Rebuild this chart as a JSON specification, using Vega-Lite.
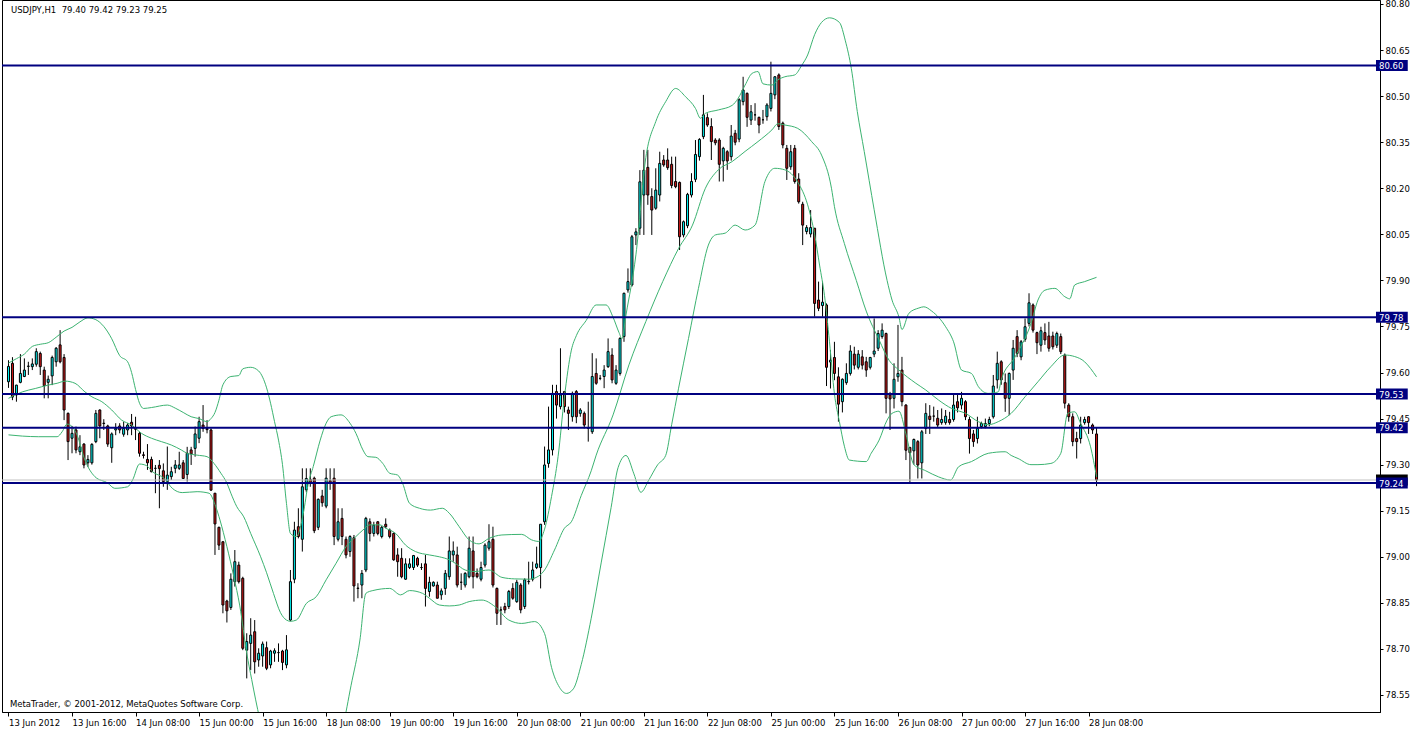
{
"$schema": "https://vega.github.io/schema/vega-lite/v6.json",
"width": 1378, "height": 712,
"autosize": {"type": "none"},
"padding": {"left": 2, "top": 0, "right": 38, "bottom": 17},
"background": "white",
"config": {"view": {"stroke": "#000000", "strokeWidth": 1}, "font": "DejaVu Sans",
  "axis": {"labelFont": "DejaVu Sans", "labelFontSize": 8.5, "labelColor": "#000000", "tickColor": "#000000", "domainColor": "#000000", "grid": false, "labelOverlap": false, "labelBound": false, "labelFlush": false}},
"datasets": {
"candles": [
{"i":0,"o":79.57,"h":79.64,"l":79.55,"c":79.62},{"i":1,"o":79.63,"h":79.65,"l":79.51,"c":79.52},{"i":2,"o":79.527,"h":79.56,"l":79.505,"c":79.559},{"i":3,"o":79.568,"h":79.66,"l":79.565,"c":79.597},{"i":4,"o":79.587,"h":79.646,"l":79.585,"c":79.608},{"i":5,"o":79.62,"h":79.635,"l":79.592,"c":79.621},{"i":6,"o":79.619,"h":79.646,"l":79.608,"c":79.628},{"i":7,"o":79.627,"h":79.679,"l":79.619,"c":79.668},{"i":8,"o":79.662,"h":79.668,"l":79.592,"c":79.619},{"i":9,"o":79.608,"h":79.619,"l":79.516,"c":79.557},
{"i":10,"o":79.568,"h":79.59,"l":79.516,"c":79.578},{"i":11,"o":79.589,"h":79.655,"l":79.559,"c":79.649},{"i":12,"o":79.635,"h":79.683,"l":79.619,"c":79.679},{"i":13,"o":79.69,"h":79.738,"l":79.63,"c":79.635},{"i":14,"o":79.649,"h":79.66,"l":79.445,"c":79.478},{"i":15,"o":79.467,"h":79.47,"l":79.315,"c":79.375},{"i":16,"o":79.386,"h":79.426,"l":79.337,"c":79.402},{"i":17,"o":79.413,"h":79.424,"l":79.337,"c":79.348},{"i":18,"o":79.342,"h":79.396,"l":79.331,"c":79.358},{"i":19,"o":79.367,"h":79.37,"l":79.288,"c":79.299},
{"i":20,"o":79.306,"h":79.331,"l":79.293,"c":79.317},{"i":21,"o":79.306,"h":79.37,"l":79.3,"c":79.366},{"i":22,"o":79.375,"h":79.478,"l":79.37,"c":79.467},{"i":23,"o":79.478,"h":79.48,"l":79.386,"c":79.426},{"i":24,"o":79.435,"h":79.448,"l":79.413,"c":79.434},{"i":25,"o":79.426,"h":79.43,"l":79.358,"c":79.367},{"i":26,"o":79.355,"h":79.405,"l":79.306,"c":79.4},{"i":27,"o":79.413,"h":79.435,"l":79.396,"c":79.418},{"i":28,"o":79.426,"h":79.435,"l":79.402,"c":79.413},{"i":29,"o":79.399,"h":79.44,"l":79.391,"c":79.418},
{"i":30,"o":79.413,"h":79.435,"l":79.396,"c":79.429},{"i":31,"o":79.438,"h":79.465,"l":79.396,"c":79.426},{"i":32,"o":79.418,"h":79.456,"l":79.38,"c":79.415},{"i":33,"o":79.402,"h":79.407,"l":79.326,"c":79.337},{"i":34,"o":79.332,"h":79.342,"l":79.32,"c":79.33},{"i":35,"o":79.317,"h":79.367,"l":79.283,"c":79.306},{"i":36,"o":79.317,"h":79.326,"l":79.275,"c":79.277},{"i":37,"o":79.288,"h":79.299,"l":79.207,"c":79.288},{"i":38,"o":79.298,"h":79.315,"l":79.158,"c":79.287},{"i":39,"o":79.28,"h":79.304,"l":79.228,"c":79.245},
{"i":40,"o":79.245,"h":79.359,"l":79.218,"c":79.266},{"i":41,"o":79.261,"h":79.293,"l":79.25,"c":79.277},{"i":42,"o":79.288,"h":79.315,"l":79.272,"c":79.299},{"i":43,"o":79.288,"h":79.342,"l":79.283,"c":79.299},{"i":44,"o":79.306,"h":79.315,"l":79.255,"c":79.255},{"i":45,"o":79.268,"h":79.358,"l":79.245,"c":79.337},{"i":46,"o":79.348,"h":79.358,"l":79.299,"c":79.335},{"i":47,"o":79.353,"h":79.424,"l":79.326,"c":79.4},{"i":48,"o":79.386,"h":79.456,"l":79.37,"c":79.44},{"i":49,"o":79.429,"h":79.494,"l":79.407,"c":79.418},
{"i":50,"o":79.418,"h":79.445,"l":79.402,"c":79.414},{"i":51,"o":79.413,"h":79.418,"l":79.215,"c":79.217},{"i":52,"o":79.207,"h":79.207,"l":79.006,"c":79.107},{"i":53,"o":79.096,"h":79.098,"l":79.022,"c":79.038},{"i":54,"o":79.049,"h":79.05,"l":78.816,"c":78.843},{"i":55,"o":78.856,"h":78.86,"l":78.786,"c":78.824},{"i":56,"o":78.835,"h":78.946,"l":78.827,"c":78.927},{"i":57,"o":78.919,"h":79.022,"l":78.903,"c":78.984},{"i":58,"o":78.973,"h":78.984,"l":78.913,"c":78.919},{"i":59,"o":78.93,"h":78.935,"l":78.696,"c":78.702},
{"i":60,"o":78.696,"h":78.751,"l":78.604,"c":78.724},{"i":61,"o":78.718,"h":78.8,"l":78.631,"c":78.745},{"i":62,"o":78.756,"h":78.794,"l":78.62,"c":78.658},{"i":63,"o":78.664,"h":78.702,"l":78.642,"c":78.686},{"i":64,"o":78.677,"h":78.724,"l":78.642,"c":78.716},{"i":65,"o":78.704,"h":78.724,"l":78.631,"c":78.637},{"i":66,"o":78.648,"h":78.697,"l":78.637,"c":78.693},{"i":67,"o":78.686,"h":78.702,"l":78.658,"c":78.694},{"i":68,"o":78.688,"h":78.718,"l":78.658,"c":78.688},{"i":69,"o":78.693,"h":78.697,"l":78.631,"c":78.656},
{"i":70,"o":78.648,"h":78.745,"l":78.637,"c":78.697},{"i":71,"o":78.794,"h":78.957,"l":78.79,"c":78.919},{"i":72,"o":78.927,"h":79.114,"l":78.914,"c":79.087},{"i":73,"o":79.098,"h":79.158,"l":79.06,"c":79.066},{"i":74,"o":79.057,"h":79.288,"l":79.017,"c":79.228},{"i":75,"o":79.218,"h":79.288,"l":79.21,"c":79.255},{"i":76,"o":79.252,"h":79.288,"l":79.228,"c":79.241},{"i":77,"o":79.256,"h":79.261,"l":79.077,"c":79.085},{"i":78,"o":79.096,"h":79.19,"l":79.087,"c":79.187},{"i":79,"o":79.198,"h":79.218,"l":79.163,"c":79.176},
{"i":80,"o":79.165,"h":79.288,"l":79.158,"c":79.256},{"i":81,"o":79.248,"h":79.288,"l":79.218,"c":79.241},{"i":82,"o":79.256,"h":79.288,"l":79.038,"c":79.066},{"i":83,"o":79.057,"h":79.158,"l":79.05,"c":79.114},{"i":84,"o":79.125,"h":79.158,"l":79.038,"c":79.066},{"i":85,"o":79.057,"h":79.066,"l":78.995,"c":79.006},{"i":86,"o":79.017,"h":79.07,"l":79.0,"c":79.066},{"i":87,"o":79.062,"h":79.071,"l":78.854,"c":78.905},{"i":88,"o":78.898,"h":78.914,"l":78.865,"c":78.897},{"i":89,"o":78.908,"h":78.957,"l":78.865,"c":78.946},
{"i":90,"o":78.957,"h":79.13,"l":78.95,"c":79.125},{"i":91,"o":79.114,"h":79.125,"l":79.05,"c":79.076},{"i":92,"o":79.076,"h":79.114,"l":79.066,"c":79.103},{"i":93,"o":79.114,"h":79.116,"l":79.07,"c":79.076},{"i":94,"o":79.066,"h":79.1,"l":79.06,"c":79.096},{"i":95,"o":79.106,"h":79.125,"l":79.093,"c":79.098},{"i":96,"o":79.087,"h":79.092,"l":79.06,"c":79.066},{"i":97,"o":79.076,"h":79.079,"l":78.987,"c":78.99},{"i":98,"o":79.006,"h":79.028,"l":78.935,"c":78.984},{"i":99,"o":78.995,"h":79.028,"l":78.93,"c":78.935},
{"i":100,"o":78.927,"h":78.995,"l":78.925,"c":78.977},{"i":101,"o":78.965,"h":78.995,"l":78.96,"c":78.977},{"i":102,"o":78.965,"h":79.006,"l":78.957,"c":79.004},{"i":103,"o":78.995,"h":79.0,"l":78.967,"c":78.973},{"i":104,"o":78.965,"h":78.979,"l":78.957,"c":78.965},{"i":105,"o":78.977,"h":79.006,"l":78.838,"c":78.897},{"i":106,"o":78.887,"h":78.935,"l":78.87,"c":78.917},{"i":107,"o":78.905,"h":78.92,"l":78.903,"c":78.917},{"i":108,"o":78.908,"h":78.919,"l":78.865,"c":78.865},{"i":109,"o":78.876,"h":78.897,"l":78.86,"c":78.889},
{"i":110,"o":78.897,"h":78.957,"l":78.876,"c":78.946},{"i":111,"o":78.935,"h":79.066,"l":78.925,"c":79.019},{"i":112,"o":79.006,"h":79.05,"l":78.984,"c":79.019},{"i":113,"o":79.006,"h":79.033,"l":78.9,"c":78.908},{"i":114,"o":78.917,"h":78.946,"l":78.892,"c":78.917},{"i":115,"o":78.908,"h":78.95,"l":78.9,"c":78.946},{"i":116,"o":78.935,"h":79.066,"l":78.93,"c":79.028},{"i":117,"o":79.019,"h":79.066,"l":78.897,"c":78.935},{"i":118,"o":78.946,"h":78.962,"l":78.93,"c":78.935},{"i":119,"o":78.927,"h":78.984,"l":78.92,"c":78.965},
{"i":120,"o":78.973,"h":79.044,"l":78.965,"c":79.038},{"i":121,"o":79.028,"h":79.106,"l":79.02,"c":79.049},{"i":122,"o":79.057,"h":79.098,"l":78.9,"c":78.908},{"i":123,"o":78.897,"h":78.9,"l":78.778,"c":78.816},{"i":124,"o":78.827,"h":78.838,"l":78.778,"c":78.827},{"i":125,"o":78.838,"h":78.85,"l":78.816,"c":78.827},{"i":126,"o":78.838,"h":78.892,"l":78.83,"c":78.887},{"i":127,"o":78.897,"h":78.914,"l":78.86,"c":78.865},{"i":128,"o":78.854,"h":78.925,"l":78.85,"c":78.917},{"i":129,"o":78.908,"h":78.914,"l":78.816,"c":78.827},
{"i":130,"o":78.838,"h":78.93,"l":78.83,"c":78.925},{"i":131,"o":78.919,"h":78.984,"l":78.91,"c":78.92},{"i":132,"o":78.927,"h":78.984,"l":78.92,"c":78.957},{"i":133,"o":78.965,"h":79.033,"l":78.96,"c":78.977},{"i":134,"o":78.965,"h":79.106,"l":78.897,"c":79.106},{"i":135,"o":79.114,"h":79.359,"l":79.104,"c":79.299},{"i":136,"o":79.304,"h":79.489,"l":79.29,"c":79.348},{"i":137,"o":79.348,"h":79.56,"l":79.33,"c":79.532},{"i":138,"o":79.538,"h":79.56,"l":79.45,"c":79.494},{"i":139,"o":79.489,"h":79.679,"l":79.48,"c":79.527},
{"i":140,"o":79.538,"h":79.54,"l":79.47,"c":79.489},{"i":141,"o":79.478,"h":79.489,"l":79.413,"c":79.467},{"i":142,"o":79.456,"h":79.538,"l":79.44,"c":79.532},{"i":143,"o":79.538,"h":79.543,"l":79.435,"c":79.456},{"i":144,"o":79.467,"h":79.484,"l":79.456,"c":79.478},{"i":145,"o":79.467,"h":79.473,"l":79.418,"c":79.429},{"i":146,"o":79.418,"h":79.505,"l":79.375,"c":79.418},{"i":147,"o":79.407,"h":79.663,"l":79.4,"c":79.587},{"i":148,"o":79.597,"h":79.646,"l":79.56,"c":79.565},{"i":149,"o":79.581,"h":79.592,"l":79.575,"c":79.581},
{"i":150,"o":79.587,"h":79.624,"l":79.549,"c":79.608},{"i":151,"o":79.619,"h":79.711,"l":79.615,"c":79.668},{"i":152,"o":79.657,"h":79.679,"l":79.565,"c":79.576},{"i":153,"o":79.565,"h":79.624,"l":79.56,"c":79.608},{"i":154,"o":79.597,"h":79.715,"l":79.59,"c":79.711},{"i":155,"o":79.717,"h":79.86,"l":79.7,"c":79.858},{"i":156,"o":79.869,"h":79.939,"l":79.86,"c":79.896},{"i":157,"o":79.885,"h":80.048,"l":79.88,"c":80.042},{"i":158,"o":80.048,"h":80.07,"l":80.015,"c":80.058},{"i":159,"o":80.07,"h":80.259,"l":80.048,"c":80.221},
{"i":160,"o":80.178,"h":80.325,"l":80.048,"c":80.259},{"i":161,"o":80.268,"h":80.325,"l":80.146,"c":80.178},{"i":162,"o":80.173,"h":80.2,"l":80.048,"c":80.129},{"i":163,"o":80.135,"h":80.265,"l":80.13,"c":80.194},{"i":164,"o":80.178,"h":80.319,"l":80.157,"c":80.281},{"i":165,"o":80.292,"h":80.308,"l":80.27,"c":80.276},{"i":166,"o":80.292,"h":80.33,"l":80.26,"c":80.267},{"i":167,"o":80.278,"h":80.303,"l":80.2,"c":80.209},{"i":168,"o":80.222,"h":80.303,"l":80.2,"c":80.205},{"i":169,"o":80.219,"h":80.222,"l":79.999,"c":80.042},
{"i":170,"o":80.048,"h":80.095,"l":80.04,"c":80.091},{"i":171,"o":80.078,"h":80.185,"l":80.07,"c":80.18},{"i":172,"o":80.178,"h":80.249,"l":80.17,"c":80.222},{"i":173,"o":80.229,"h":80.357,"l":80.22,"c":80.31},{"i":174,"o":80.303,"h":80.363,"l":80.29,"c":80.359},{"i":175,"o":80.368,"h":80.504,"l":80.36,"c":80.439},{"i":176,"o":80.43,"h":80.444,"l":80.4,"c":80.406},{"i":177,"o":80.401,"h":80.428,"l":80.292,"c":80.352},{"i":178,"o":80.357,"h":80.363,"l":80.34,"c":80.348},{"i":179,"o":80.357,"h":80.363,"l":80.222,"c":80.278},
{"i":180,"o":80.289,"h":80.335,"l":80.222,"c":80.33},{"i":181,"o":80.319,"h":80.324,"l":80.26,"c":80.289},{"i":182,"o":80.303,"h":80.406,"l":80.29,"c":80.37},{"i":183,"o":80.379,"h":80.39,"l":80.34,"c":80.35},{"i":184,"o":80.36,"h":80.493,"l":80.35,"c":80.488},{"i":185,"o":80.482,"h":80.563,"l":80.47,"c":80.52},{"i":186,"o":80.509,"h":80.512,"l":80.4,"c":80.431},{"i":187,"o":80.422,"h":80.471,"l":80.406,"c":80.449},{"i":188,"o":80.439,"h":80.477,"l":80.42,"c":80.439},{"i":189,"o":80.431,"h":80.433,"l":80.379,"c":80.406},
{"i":190,"o":80.423,"h":80.455,"l":80.41,"c":80.423},{"i":191,"o":80.433,"h":80.477,"l":80.42,"c":80.471},{"i":192,"o":80.46,"h":80.612,"l":80.45,"c":80.509},{"i":193,"o":80.504,"h":80.565,"l":80.49,"c":80.563},{"i":194,"o":80.569,"h":80.574,"l":80.39,"c":80.401},{"i":195,"o":80.412,"h":80.417,"l":80.33,"c":80.341},{"i":196,"o":80.33,"h":80.341,"l":80.227,"c":80.265},{"i":197,"o":80.27,"h":80.341,"l":80.26,"c":80.319},{"i":198,"o":80.33,"h":80.341,"l":80.215,"c":80.222},{"i":199,"o":80.23,"h":80.249,"l":80.15,"c":80.156},
{"i":200,"o":80.148,"h":80.156,"l":80.015,"c":80.08},{"i":201,"o":80.059,"h":80.08,"l":80.05,"c":80.072},{"i":202,"o":80.051,"h":80.129,"l":80.04,"c":80.072},{"i":203,"o":80.07,"h":80.07,"l":79.782,"c":79.825},{"i":204,"o":79.836,"h":79.896,"l":79.8,"c":79.809},{"i":205,"o":79.818,"h":79.896,"l":79.782,"c":79.829},{"i":206,"o":79.82,"h":79.825,"l":79.556,"c":79.617},{"i":207,"o":79.634,"h":79.673,"l":79.548,"c":79.64},{"i":208,"o":79.649,"h":79.7,"l":79.575,"c":79.597},{"i":209,"o":79.586,"h":79.617,"l":79.44,"c":79.497},
{"i":210,"o":79.505,"h":79.581,"l":79.47,"c":79.578},{"i":211,"o":79.567,"h":79.63,"l":79.56,"c":79.597},{"i":212,"o":79.597,"h":79.689,"l":79.59,"c":79.67},{"i":213,"o":79.66,"h":79.684,"l":79.61,"c":79.624},{"i":214,"o":79.617,"h":79.673,"l":79.61,"c":79.66},{"i":215,"o":79.651,"h":79.673,"l":79.61,"c":79.624},{"i":216,"o":79.635,"h":79.651,"l":79.586,"c":79.608},{"i":217,"o":79.617,"h":79.651,"l":79.61,"c":79.649},{"i":218,"o":79.66,"h":79.776,"l":79.65,"c":79.67},{"i":219,"o":79.679,"h":79.738,"l":79.67,"c":79.727},
{"i":220,"o":79.717,"h":79.76,"l":79.71,"c":79.738},{"i":221,"o":79.727,"h":79.73,"l":79.467,"c":79.516},{"i":222,"o":79.527,"h":79.537,"l":79.413,"c":79.514},{"i":223,"o":79.516,"h":79.63,"l":79.483,"c":79.578},{"i":224,"o":79.586,"h":79.755,"l":79.57,"c":79.597},{"i":225,"o":79.608,"h":79.651,"l":79.49,"c":79.505},{"i":226,"o":79.494,"h":79.497,"l":79.315,"c":79.347},{"i":227,"o":79.356,"h":79.358,"l":79.237,"c":79.339},{"i":228,"o":79.345,"h":79.385,"l":79.3,"c":79.382},{"i":229,"o":79.375,"h":79.38,"l":79.255,"c":79.299},
{"i":230,"o":79.306,"h":79.413,"l":79.255,"c":79.407},{"i":231,"o":79.418,"h":79.5,"l":79.4,"c":79.467},{"i":232,"o":79.458,"h":79.494,"l":79.4,"c":79.447},{"i":233,"o":79.458,"h":79.489,"l":79.44,"c":79.458},{"i":234,"o":79.451,"h":79.478,"l":79.42,"c":79.429},{"i":235,"o":79.437,"h":79.483,"l":79.43,"c":79.447},{"i":236,"o":79.437,"h":79.478,"l":79.43,"c":79.458},{"i":237,"o":79.447,"h":79.472,"l":79.43,"c":79.437},{"i":238,"o":79.447,"h":79.532,"l":79.44,"c":79.494},{"i":239,"o":79.505,"h":79.532,"l":79.47,"c":79.485},
{"i":240,"o":79.494,"h":79.537,"l":79.48,"c":79.516},{"i":241,"o":79.505,"h":79.51,"l":79.445,"c":79.456},{"i":242,"o":79.447,"h":79.456,"l":79.336,"c":79.385},{"i":243,"o":79.4,"h":79.413,"l":79.358,"c":79.375},{"i":244,"o":79.385,"h":79.456,"l":79.369,"c":79.418},{"i":245,"o":79.424,"h":79.44,"l":79.418,"c":79.434},{"i":246,"o":79.424,"h":79.45,"l":79.418,"c":79.434},{"i":247,"o":79.434,"h":79.456,"l":79.425,"c":79.447},{"i":248,"o":79.456,"h":79.592,"l":79.45,"c":79.556},{"i":249,"o":79.576,"h":79.668,"l":79.548,"c":79.63},
{"i":250,"o":79.635,"h":79.64,"l":79.56,"c":79.576},{"i":251,"o":79.567,"h":79.597,"l":79.472,"c":79.516},{"i":252,"o":79.516,"h":79.6,"l":79.461,"c":79.597},{"i":253,"o":79.608,"h":79.706,"l":79.576,"c":79.679},{"i":254,"o":79.717,"h":79.738,"l":79.65,"c":79.662},{"i":255,"o":79.651,"h":79.706,"l":79.64,"c":79.7},{"i":256,"o":79.708,"h":79.776,"l":79.7,"c":79.749},{"i":257,"o":79.76,"h":79.858,"l":79.75,"c":79.827},{"i":258,"o":79.82,"h":79.825,"l":79.73,"c":79.738},{"i":259,"o":79.73,"h":79.733,"l":79.66,"c":79.697},
{"i":260,"o":79.689,"h":79.749,"l":79.668,"c":79.736},{"i":261,"o":79.73,"h":79.76,"l":79.69,"c":79.706},{"i":262,"o":79.719,"h":79.765,"l":79.668,"c":79.679},{"i":263,"o":79.719,"h":79.733,"l":79.675,"c":79.684},{"i":264,"o":79.689,"h":79.733,"l":79.68,"c":79.727},{"i":265,"o":79.717,"h":79.727,"l":79.66,"c":79.668},{"i":266,"o":79.657,"h":79.662,"l":79.483,"c":79.5},{"i":267,"o":79.494,"h":79.5,"l":79.44,"c":79.456},{"i":268,"o":79.456,"h":79.467,"l":79.36,"c":79.375},{"i":269,"o":79.385,"h":79.407,"l":79.32,"c":79.375},
{"i":270,"o":79.385,"h":79.456,"l":79.369,"c":79.429},{"i":271,"o":79.437,"h":79.456,"l":79.43,"c":79.447},{"i":272,"o":79.456,"h":79.458,"l":79.4,"c":79.437},{"i":273,"o":79.429,"h":79.434,"l":79.4,"c":79.413},{"i":274,"o":79.4,"h":79.42,"l":79.23,"c":79.25}
],
"bands": [
{"b":"u","i":0,"v":79.631},{"b":"u","i":2,"v":79.645},{"b":"u","i":4,"v":79.66},{"b":"u","i":6,"v":79.685},{"b":"u","i":8,"v":79.692},{"b":"u","i":10,"v":79.697},{"b":"u","i":12,"v":79.715},{"b":"u","i":14,"v":79.735},{"b":"u","i":16,"v":79.747},{"b":"u","i":18,"v":79.765},{"b":"u","i":20,"v":79.778},{"b":"u","i":22,"v":79.772},{"b":"u","i":24,"v":79.75},{"b":"u","i":26,"v":79.71},{"b":"u","i":28,"v":79.655},{"b":"u","i":30,"v":79.635},{"b":"u","i":31,"v":79.6},{"b":"u","i":32,"v":79.545},{"b":"u","i":33,"v":79.5},{"b":"u","i":34,"v":79.483},{"b":"u","i":36,"v":79.486},{"b":"u","i":40,"v":79.494},{"b":"u","i":42,"v":79.484},{"b":"u","i":44,"v":79.47},{"b":"u","i":46,"v":79.456},{"b":"u","i":48,"v":79.45},{"b":"u","i":50,"v":79.44},{"b":"u","i":51,"v":79.45},{"b":"u","i":52,"v":79.47},{"b":"u","i":53,"v":79.51},{"b":"u","i":54,"v":79.56},{"b":"u","i":56,"v":79.587},{"b":"u","i":58,"v":79.59},{"b":"u","i":59,"v":79.612},{"b":"u","i":61,"v":79.617},{"b":"u","i":63,"v":79.605},{"b":"u","i":64,"v":79.585},{"b":"u","i":65,"v":79.55},{"b":"u","i":66,"v":79.5},{"b":"u","i":67,"v":79.44},{"b":"u","i":68,"v":79.38},{"b":"u","i":69,"v":79.3},{"b":"u","i":70,"v":79.174},{"b":"u","i":71,"v":79.076},{"b":"u","i":72.5,"v":79.066},{"b":"u","i":74.25,"v":79.142},{"b":"u","i":75.5,"v":79.239},{"b":"u","i":76.75,"v":79.294},{"b":"u","i":78.5,"v":79.38},{"b":"u","i":80,"v":79.435},{"b":"u","i":81.25,"v":79.456},{"b":"u","i":83.75,"v":79.462},{"b":"u","i":86,"v":79.435},{"b":"u","i":87.5,"v":79.402},{"b":"u","i":89.25,"v":79.348},{"b":"u","i":90.5,"v":79.326},{"b":"u","i":92.5,"v":79.324},{"b":"u","i":94.25,"v":79.304},{"b":"u","i":96,"v":79.272},{"b":"u","i":98,"v":79.266},{"b":"u","i":99.25,"v":79.239},{"b":"u","i":101,"v":79.174},{"b":"u","i":103.5,"v":79.158},{"b":"u","i":106.25,"v":79.152},{"b":"u","i":109.25,"v":79.158},{"b":"u","i":111,"v":79.142},{"b":"u","i":113.5,"v":79.098},{"b":"u","i":116,"v":79.055},{"b":"u","i":118.5,"v":79.042},{"b":"u","i":121,"v":79.06},{"b":"u","i":124.25,"v":79.071},{"b":"u","i":129.25,"v":79.073},{"b":"u","i":131.75,"v":79.055},{"b":"u","i":133.5,"v":79.05},{"b":"u","i":135,"v":79.09},{"b":"u","i":136.75,"v":79.196},{"b":"u","i":138.4,"v":79.326},{"b":"u","i":140,"v":79.52},{"b":"u","i":141.75,"v":79.673},{"b":"u","i":143,"v":79.72},{"b":"u","i":145.5,"v":79.77},{"b":"u","i":148,"v":79.82},{"b":"u","i":150.5,"v":79.82},{"b":"u","i":152.25,"v":79.78},{"b":"u","i":153.75,"v":79.73},{"b":"u","i":154.5,"v":79.71},{"b":"u","i":155.5,"v":79.787},{"b":"u","i":158,"v":79.983},{"b":"u","i":160.5,"v":80.3},{"b":"u","i":163,"v":80.417},{"b":"u","i":165.5,"v":80.482},{"b":"u","i":168,"v":80.525},{"b":"u","i":170.5,"v":80.498},{"b":"u","i":173,"v":80.46},{"b":"u","i":174.25,"v":80.428},{"b":"u","i":175.5,"v":80.444},{"b":"u","i":178.75,"v":80.455},{"b":"u","i":182.25,"v":80.47},{"b":"u","i":183.75,"v":80.493},{"b":"u","i":185.5,"v":80.536},{"b":"u","i":187.25,"v":80.574},{"b":"u","i":188.75,"v":80.58},{"b":"u","i":190,"v":80.54},{"b":"u","i":192.25,"v":80.536},{"b":"u","i":193.75,"v":80.553},{"b":"u","i":195.5,"v":80.563},{"b":"u","i":198,"v":80.569},{"b":"u","i":199.75,"v":80.6},{"b":"u","i":201.25,"v":80.634},{"b":"u","i":203,"v":80.7},{"b":"u","i":204.75,"v":80.74},{"b":"u","i":206.75,"v":80.755},{"b":"u","i":209.25,"v":80.74},{"b":"u","i":210.75,"v":80.68},{"b":"u","i":212.25,"v":80.59},{"b":"u","i":213.75,"v":80.45},{"b":"u","i":215.5,"v":80.32},{"b":"u","i":218,"v":80.13},{"b":"u","i":221.25,"v":79.9},{"b":"u","i":222.5,"v":79.836},{"b":"u","i":224.25,"v":79.78},{"b":"u","i":225,"v":79.74},{"b":"u","i":226.75,"v":79.793},{"b":"u","i":229.25,"v":79.81},{"b":"u","i":230.5,"v":79.814},{"b":"u","i":232.5,"v":79.8},{"b":"u","i":236,"v":79.749},{"b":"u","i":238,"v":79.7},{"b":"u","i":240,"v":79.608},{"b":"u","i":242.5,"v":79.597},{"b":"u","i":244.25,"v":79.554},{"b":"u","i":246.75,"v":79.532},{"b":"u","i":249.25,"v":79.537},{"b":"u","i":250,"v":79.576},{"b":"u","i":253.5,"v":79.651},{"b":"u","i":257.5,"v":79.76},{"b":"u","i":259.25,"v":79.836},{"b":"u","i":261,"v":79.868},{"b":"u","i":263.5,"v":79.874},{"b":"u","i":266,"v":79.847},{"b":"u","i":267.25,"v":79.84},{"b":"u","i":268.5,"v":79.885},{"b":"u","i":271,"v":79.896},{"b":"u","i":274,"v":79.91},
{"b":"m","i":0,"v":79.516},{"b":"m","i":3.5,"v":79.537},{"b":"m","i":6.75,"v":79.548},{"b":"m","i":10,"v":79.559},{"b":"m","i":12.25,"v":79.565},{"b":"m","i":14.25,"v":79.572},{"b":"m","i":16.75,"v":79.565},{"b":"m","i":19.25,"v":79.537},{"b":"m","i":21,"v":79.521},{"b":"m","i":23.5,"v":79.505},{"b":"m","i":26,"v":79.478},{"b":"m","i":28.5,"v":79.445},{"b":"m","i":31,"v":79.429},{"b":"m","i":33.5,"v":79.402},{"b":"m","i":36,"v":79.386},{"b":"m","i":38.5,"v":79.375},{"b":"m","i":41,"v":79.364},{"b":"m","i":43.5,"v":79.348},{"b":"m","i":45,"v":79.337},{"b":"m","i":47.5,"v":79.331},{"b":"m","i":50,"v":79.326},{"b":"m","i":51.75,"v":79.304},{"b":"m","i":53.5,"v":79.272},{"b":"m","i":55,"v":79.24},{"b":"m","i":56,"v":79.207},{"b":"m","i":57.5,"v":79.163},{"b":"m","i":59.25,"v":79.13},{"b":"m","i":61,"v":79.076},{"b":"m","i":63.5,"v":79.0},{"b":"m","i":65,"v":78.948},{"b":"m","i":66.75,"v":78.88},{"b":"m","i":68.5,"v":78.818},{"b":"m","i":70,"v":78.794},{"b":"m","i":71,"v":78.79},{"b":"m","i":72.5,"v":78.794},{"b":"m","i":75,"v":78.848},{"b":"m","i":77.5,"v":78.87},{"b":"m","i":80,"v":78.925},{"b":"m","i":82.5,"v":78.979},{"b":"m","i":85,"v":79.033},{"b":"m","i":87.5,"v":79.066},{"b":"m","i":89.25,"v":79.087},{"b":"m","i":91,"v":79.104},{"b":"m","i":93.5,"v":79.104},{"b":"m","i":95,"v":79.093},{"b":"m","i":97.5,"v":79.076},{"b":"m","i":100,"v":79.038},{"b":"m","i":102.5,"v":79.017},{"b":"m","i":106,"v":79.006},{"b":"m","i":108.5,"v":79.0},{"b":"m","i":111,"v":78.99},{"b":"m","i":112.5,"v":78.979},{"b":"m","i":115,"v":78.957},{"b":"m","i":117.5,"v":78.952},{"b":"m","i":121,"v":78.957},{"b":"m","i":124.25,"v":78.933},{"b":"m","i":127.5,"v":78.928},{"b":"m","i":131,"v":78.927},{"b":"m","i":133.5,"v":78.937},{"b":"m","i":135,"v":78.957},{"b":"m","i":137.5,"v":79.022},{"b":"m","i":140,"v":79.093},{"b":"m","i":141.75,"v":79.114},{"b":"m","i":144.25,"v":79.2},{"b":"m","i":146.75,"v":79.28},{"b":"m","i":148,"v":79.331},{"b":"m","i":152.25,"v":79.462},{"b":"m","i":156.25,"v":79.625},{"b":"m","i":160.5,"v":79.766},{"b":"m","i":164.75,"v":79.896},{"b":"m","i":168.75,"v":80.004},{"b":"m","i":172.25,"v":80.08},{"b":"m","i":175.5,"v":80.2},{"b":"m","i":178.75,"v":80.26},{"b":"m","i":182.25,"v":80.287},{"b":"m","i":185.5,"v":80.32},{"b":"m","i":188.75,"v":80.352},{"b":"m","i":192.25,"v":80.39},{"b":"m","i":193.75,"v":80.41},{"b":"m","i":195.5,"v":80.406},{"b":"m","i":198.75,"v":80.395},{"b":"m","i":202.25,"v":80.352},{"b":"m","i":204.75,"v":80.308},{"b":"m","i":207.25,"v":80.2},{"b":"m","i":208,"v":80.14},{"b":"m","i":210.5,"v":80.02},{"b":"m","i":213.5,"v":79.9},{"b":"m","i":216,"v":79.8},{"b":"m","i":219.25,"v":79.706},{"b":"m","i":221.75,"v":79.64},{"b":"m","i":224.25,"v":79.608},{"b":"m","i":228.5,"v":79.565},{"b":"m","i":231,"v":79.543},{"b":"m","i":234.25,"v":79.51},{"b":"m","i":237.5,"v":79.483},{"b":"m","i":241,"v":79.467},{"b":"m","i":244.25,"v":79.44},{"b":"m","i":246.75,"v":79.43},{"b":"m","i":249.25,"v":79.44},{"b":"m","i":252.5,"v":79.467},{"b":"m","i":256,"v":79.521},{"b":"m","i":259.25,"v":79.57},{"b":"m","i":262.5,"v":79.619},{"b":"m","i":266,"v":79.657},{"b":"m","i":268.5,"v":79.652},{"b":"m","i":271,"v":79.635},{"b":"m","i":272.5,"v":79.613},{"b":"m","i":274,"v":79.586},
{"b":"l","i":0,"v":79.397},{"b":"l","i":3.5,"v":79.393},{"b":"l","i":7.5,"v":79.391},{"b":"l","i":12.25,"v":79.391},{"b":"l","i":13.5,"v":79.407},{"b":"l","i":14.75,"v":79.432},{"b":"l","i":16,"v":79.424},{"b":"l","i":17.25,"v":79.397},{"b":"l","i":19.25,"v":79.315},{"b":"l","i":21.75,"v":79.261},{"b":"l","i":25,"v":79.24},{"b":"l","i":26.75,"v":79.223},{"b":"l","i":30,"v":79.228},{"b":"l","i":31.25,"v":79.25},{"b":"l","i":33,"v":79.302},{"b":"l","i":34.75,"v":79.297},{"b":"l","i":36.25,"v":79.277},{"b":"l","i":39.25,"v":79.255},{"b":"l","i":41.25,"v":79.223},{"b":"l","i":43.75,"v":79.209},{"b":"l","i":47.5,"v":79.212},{"b":"l","i":50.5,"v":79.207},{"b":"l","i":52.2,"v":79.163},{"b":"l","i":53.25,"v":79.12},{"b":"l","i":55,"v":79.033},{"b":"l","i":56.75,"v":78.935},{"b":"l","i":58.25,"v":78.84},{"b":"l","i":60,"v":78.686},{"b":"l","i":61.25,"v":78.6},{"b":"l","i":62.25,"v":78.534},{"b":"l","i":64.25,"v":78.42},{"b":"l","i":66.75,"v":78.33},{"b":"l","i":70.5,"v":78.28},{"b":"l","i":74.25,"v":78.28},{"b":"l","i":78,"v":78.3},{"b":"l","i":81.75,"v":78.36},{"b":"l","i":84.25,"v":78.45},{"b":"l","i":86.25,"v":78.58},{"b":"l","i":88.5,"v":78.729},{"b":"l","i":90,"v":78.881},{"b":"l","i":91.75,"v":78.89},{"b":"l","i":96,"v":78.897},{"b":"l","i":98.75,"v":78.876},{"b":"l","i":101,"v":78.89},{"b":"l","i":104.25,"v":78.881},{"b":"l","i":106,"v":78.865},{"b":"l","i":108.5,"v":78.843},{"b":"l","i":111,"v":78.84},{"b":"l","i":113.5,"v":78.843},{"b":"l","i":116,"v":78.854},{"b":"l","i":119.25,"v":78.859},{"b":"l","i":122.5,"v":78.838},{"b":"l","i":126,"v":78.794},{"b":"l","i":129.25,"v":78.783},{"b":"l","i":132.5,"v":78.789},{"b":"l","i":135,"v":78.75},{"b":"l","i":136.75,"v":78.64},{"b":"l","i":138.75,"v":78.575},{"b":"l","i":140.5,"v":78.555},{"b":"l","i":142.25,"v":78.57},{"b":"l","i":144.25,"v":78.65},{"b":"l","i":146.75,"v":78.8},{"b":"l","i":149.25,"v":78.98},{"b":"l","i":151.75,"v":79.16},{"b":"l","i":153.5,"v":79.29},{"b":"l","i":155.5,"v":79.33},{"b":"l","i":157.5,"v":79.27},{"b":"l","i":159.25,"v":79.21},{"b":"l","i":161.25,"v":79.25},{"b":"l","i":163.5,"v":79.3},{"b":"l","i":165.5,"v":79.33},{"b":"l","i":167,"v":79.43},{"b":"l","i":168.75,"v":79.549},{"b":"l","i":171.25,"v":79.711},{"b":"l","i":173.75,"v":79.874},{"b":"l","i":176.25,"v":80.015},{"b":"l","i":178,"v":80.048},{"b":"l","i":180.5,"v":80.054},{"b":"l","i":183,"v":80.08},{"b":"l","i":185.5,"v":80.064},{"b":"l","i":188,"v":80.08},{"b":"l","i":190.5,"v":80.222},{"b":"l","i":193,"v":80.265},{"b":"l","i":195.5,"v":80.26},{"b":"l","i":198.75,"v":80.22},{"b":"l","i":201.25,"v":80.146},{"b":"l","i":203,"v":80.05},{"b":"l","i":204.25,"v":79.95},{"b":"l","i":205.5,"v":79.85},{"b":"l","i":206.75,"v":79.7},{"b":"l","i":208,"v":79.53},{"b":"l","i":209.25,"v":79.44},{"b":"l","i":210.5,"v":79.36},{"b":"l","i":211.75,"v":79.315},{"b":"l","i":216,"v":79.31},{"b":"l","i":217.25,"v":79.337},{"b":"l","i":219.25,"v":79.38},{"b":"l","i":221.25,"v":79.445},{"b":"l","i":222.5,"v":79.467},{"b":"l","i":224.25,"v":79.474},{"b":"l","i":226,"v":79.4},{"b":"l","i":228,"v":79.3},{"b":"l","i":231,"v":79.28},{"b":"l","i":234.25,"v":79.26},{"b":"l","i":237.25,"v":79.25},{"b":"l","i":239.25,"v":79.293},{"b":"l","i":242.5,"v":79.31},{"b":"l","i":246.75,"v":79.337},{"b":"l","i":251,"v":79.342},{"b":"l","i":252.5,"v":79.33},{"b":"l","i":254.25,"v":79.32},{"b":"l","i":257.5,"v":79.3},{"b":"l","i":259.25,"v":79.3},{"b":"l","i":262.5,"v":79.304},{"b":"l","i":265,"v":79.337},{"b":"l","i":266.75,"v":79.467},{"b":"l","i":268.5,"v":79.472},{"b":"l","i":270,"v":79.434},{"b":"l","i":272.5,"v":79.358},{"b":"l","i":274,"v":79.26}
],
"levels": [{"p":80.60},{"p":79.78},{"p":79.53},{"p":79.42},{"p":79.24}],
"one": [{}]
},
"layer": [
{"data": {"name": "candles"},
 "mark": {"type": "rule", "color": "#000000", "strokeWidth": 1},
 "encoding": {
  "x": {"field": "i", "type": "quantitative", "title": null, "scale": {"domain": [-0.375, 344.125], "nice": false, "zero": false},
        "axis": {"orient": "bottom", "values": [0,16,32,48,64,80,96,112,128,144,160,176,192,208,224,240,256,272],
                 "labelExpr": "['13 Jun 2012','13 Jun 16:00','14 Jun 08:00','15 Jun 00:00','15 Jun 16:00','18 Jun 08:00','19 Jun 00:00','19 Jun 16:00','20 Jun 08:00','21 Jun 00:00','21 Jun 16:00','22 Jun 08:00','25 Jun 00:00','25 Jun 16:00','26 Jun 08:00','27 Jun 00:00','27 Jun 16:00','28 Jun 08:00'][round(datum.value/16)]",
                 "labelAlign": "left", "labelBaseline": "top", "labelPadding": 2, "tickSize": 4}},
  "y": {"field": "l", "type": "quantitative", "title": null, "scale": {"domain": [78.4946, 80.813], "nice": false, "zero": false},
        "axis": {"orient": "right", "values": [78.55,78.7,78.85,79.0,79.15,79.3,79.45,79.6,79.75,79.9,80.05,80.2,80.35,80.5,80.65,80.8],
                 "format": ".2f", "labelPadding": 2, "tickSize": 3}},
  "y2": {"field": "h"}
 }},
{"data": {"name": "candles"},
 "mark": {"type": "bar", "width": 2, "stroke": "#000000", "strokeWidth": 1},
 "encoding": {
  "x": {"field": "i", "type": "quantitative", "title": null},
  "y": {"field": "o", "type": "quantitative", "title": null},
  "y2": {"field": "c"},
  "fill": {"condition": {"test": "datum.c >= datum.o", "value": "#00F0F0"}, "value": "#D01818"}
 }},
{"data": {"name": "bands"},
 "mark": {"type": "line", "color": "#3CB371", "strokeWidth": 1, "clip": true, "interpolate": "monotone"},
 "encoding": {
  "x": {"field": "i", "type": "quantitative", "title": null},
  "y": {"field": "v", "type": "quantitative", "title": null},
  "detail": {"field": "b"}
 }},
{"data": {"name": "one"},
 "mark": {"type": "rule", "color": "#C0C0C0", "strokeWidth": 1},
 "encoding": {"y": {"datum": 79.25, "type": "quantitative", "title": null}}},
{"data": {"name": "levels"},
 "mark": {"type": "rule", "color": "#000080", "strokeWidth": 2},
 "encoding": {"y": {"field": "p", "type": "quantitative", "title": null}}},
{"data": {"name": "one"},
 "mark": {"type": "rule", "color": "#000000", "strokeWidth": 11, "strokeCap": "butt"},
 "encoding": {"x": {"datum": 344.375, "type": "quantitative", "title": null}, "x2": {"datum": 352.375}, "y": {"datum": 79.25, "type": "quantitative", "title": null}}},
{"data": {"name": "levels"},
 "mark": {"type": "rule", "color": "#000080", "strokeWidth": 11, "strokeCap": "butt"},
 "encoding": {"x": {"datum": 344.375, "type": "quantitative", "title": null}, "x2": {"datum": 352.375}, "y": {"field": "p", "type": "quantitative", "title": null}}},
{"data": {"name": "levels"},
 "mark": {"type": "text", "color": "#FFFFFF", "align": "left", "baseline": "middle", "font": "DejaVu Sans", "fontSize": 8.5, "dy": 0.5},
 "encoding": {"x": {"datum": 345.125, "type": "quantitative", "title": null}, "y": {"field": "p", "type": "quantitative", "title": null}, "text": {"field": "p", "format": ".2f"}}},
{"data": {"name": "one"},
 "mark": {"type": "text", "color": "#000000", "align": "left", "baseline": "middle", "font": "DejaVu Sans", "fontSize": 8.5},
 "encoding": {"x": {"datum": 0.625, "type": "quantitative", "title": null}, "y": {"datum": 80.781, "type": "quantitative", "title": null}, "text": {"value": "USDJPY,H1\u00a0 79.40 79.42 79.23 79.25"}}},
{"data": {"name": "one"},
 "mark": {"type": "text", "color": "#000000", "align": "left", "baseline": "middle", "font": "DejaVu Sans", "fontSize": 8.5},
 "encoding": {"x": {"datum": 0.375, "type": "quantitative", "title": null}, "y": {"datum": 78.522, "type": "quantitative", "title": null}, "text": {"value": "MetaTrader, © 2001-2012, MetaQuotes Software Corp."}}}
]
}
